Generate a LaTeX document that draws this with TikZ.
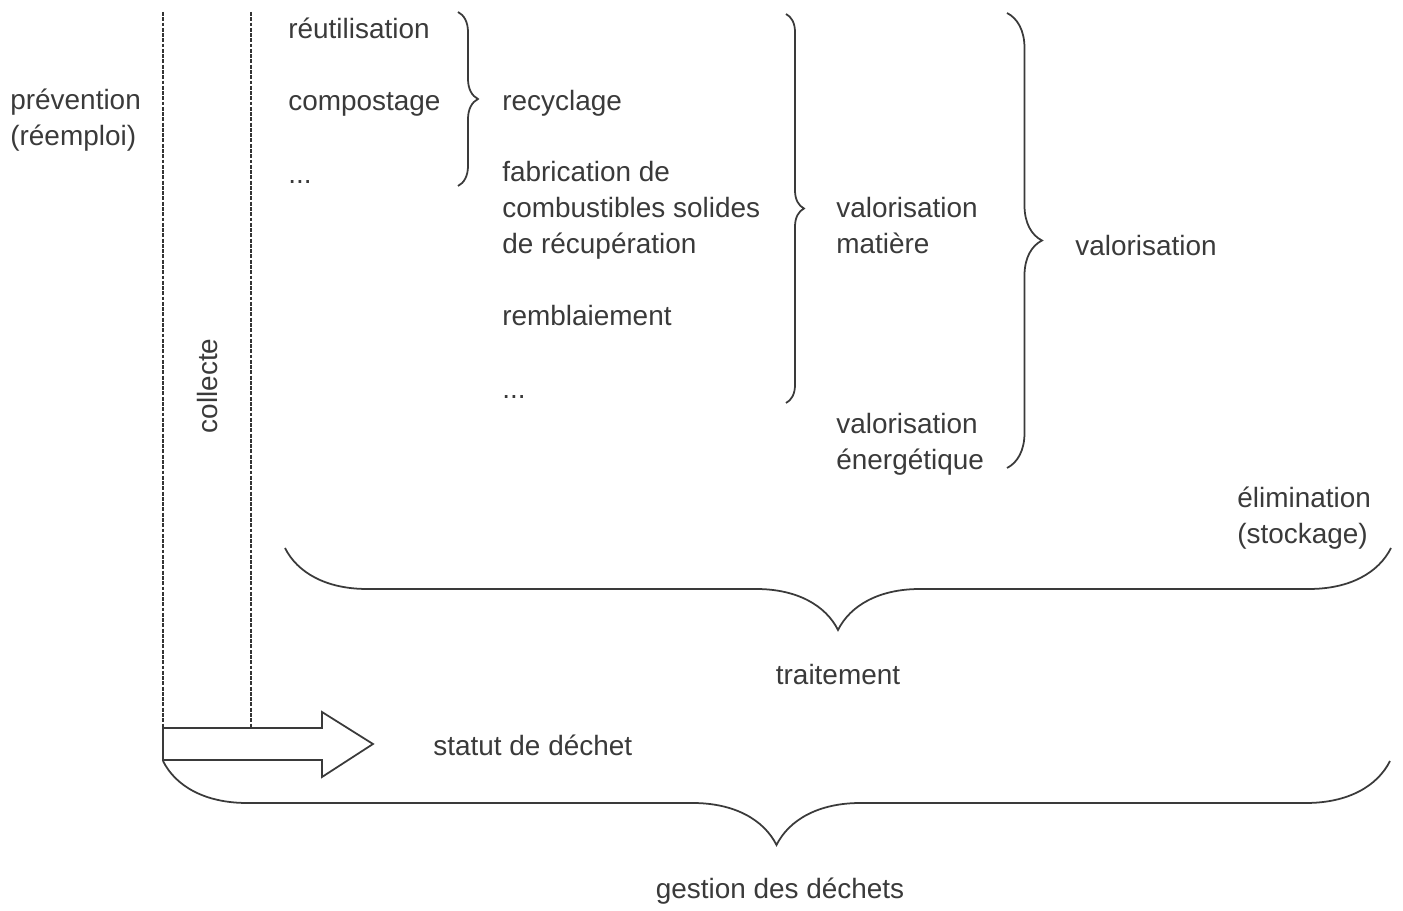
\documentclass[tikz,border=0pt]{standalone}
\usepackage{fontspec}
\setmainfont{Liberation Sans}
\usetikzlibrary{decorations.pathreplacing}
\definecolor{ink}{HTML}{3A3A3A}

\begin{document}
\begin{tikzpicture}[x=0.02cm, y=-0.02cm,
    lbl/.style={anchor=base west, inner sep=0pt, text=ink, align=left,
                font=\fontsize{15.9}{20.5}\selectfont},
    mid/.style={lbl, anchor=base},
    brc/.style={decorate, draw=ink, line width=1pt},
    sep/.style={draw=ink!90!black, line width=1.5pt, dash pattern=on 2.2pt off 0.8pt}
  ]
    \useasboundingbox (0,0) rectangle (1403,911);

    % left column (multi-line nodes sit on their last baseline)
    \node[lbl] (prev) at (10,146) {prévention\\(réemploi)};
    \node[lbl, anchor=base, rotate=90] (coll) at (217,386) {collecte};

    % operations
    \node[lbl] (reut) at (288,39)  {réutilisation};
    \node[lbl] (comp) at (288,111) {compostage};
    \node[lbl] (dotA) at (288,184) {...};
    \node[lbl] (recy) at (502,111) {recyclage};
    \node[lbl] (fabr) at (502,254) {fabrication de\\combustibles solides\\de récupération};
    \node[lbl] (remb) at (502,326) {remblaiement};
    \node[lbl] (dotB) at (502,399) {...};
    \node[lbl] (vmat) at (836,254) {valorisation\\matière};
    \node[lbl] (vene) at (836,470) {valorisation\\énergétique};
    \node[lbl] (valo) at (1075,256) {valorisation};
    \node[lbl] (elim) at (1237,544) {élimination\\(stockage)};
    \node[mid] (trai) at (838,684) {traitement};
    \node[lbl] (stat) at (433,755) {statut de déchet};
    \node[mid] (gest) at (780,898) {gestion des déchets};

    % braces
    \coordinate (b1t) at (458,12);   \coordinate (b1b) at (458,186);
    \coordinate (b2t) at (786,14);   \coordinate (b2b) at (786,403);
    \coordinate (b3t) at (1007,13);  \coordinate (b3b) at (1007,468);
    \coordinate (b4l) at (285,548);  \coordinate (b4r) at (1391,548);
    \coordinate (b5l) at (163,761);  \coordinate (b5r) at (1390,761);
    \draw[brc, decoration={brace, amplitude=0.4cm}]  (b1t) -- (b1b);
    \draw[brc, decoration={brace, amplitude=0.36cm}] (b2t) -- (b2b);
    \draw[brc, decoration={brace, amplitude=0.7cm}]  (b3t) -- (b3b);
    \draw[brc, decoration={brace, mirror, amplitude=1.64cm}] (b4l) -- (b4r);
    \draw[brc, decoration={brace, mirror, amplitude=1.68cm}] (b5l) -- (b5r);

    % collecte lines and waste-status arrow
    \draw[sep] (163,12) -- (163,728);
    \draw[sep] (251,12) -- (251,728);
    \draw[draw=ink, fill=white, line width=1pt]
      (163,728) -- (322,728) -- (322,712) -- (373,744)
      -- (322,777) -- (322,760) -- (163,760) -- cycle;
  \end{tikzpicture}
\end{document}
